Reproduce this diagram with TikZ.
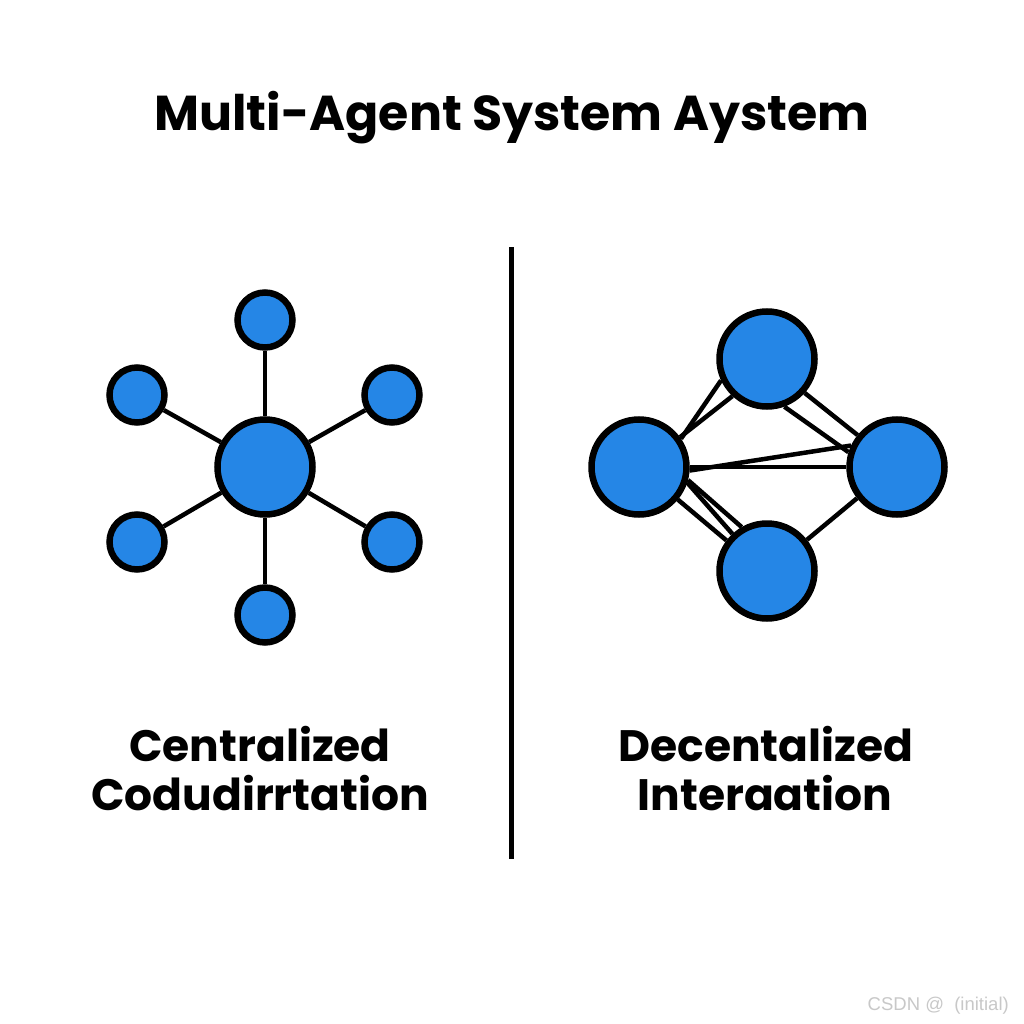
\documentclass[tikz,border=0pt]{standalone}
\usepackage{fontspec}
\setmainfont{Poppins}
\newfontfamily\wmfont{Liberation Sans}
\definecolor{agentblue}{RGB}{37,134,230}
\definecolor{wmgray}{RGB}{200,200,200}
\begin{document}
\begin{tikzpicture}[x=1pt,y=-1pt,
  agent/.style={circle,draw=black,fill=agentblue,line width=6.5pt,inner sep=0pt},
  bigagent/.style={agent,minimum size=95pt},
  smallagent/.style={agent,minimum size=55pt},
  link/.style={draw=black,line width=4.5pt},
  heading/.style={font=\bfseries\fontsize{49}{52}\selectfont,anchor=base,inner sep=0pt},
  caption/.style={font=\bfseries\fontsize{44}{48}\selectfont,anchor=base,inner sep=0pt}]
\useasboundingbox[fill=white] (0,0) rectangle (1024,1024);
% title
\node[heading] (title) at (512,131) {Multi-Agent System Aystem};
% divider
\coordinate (dtop) at (511.5,247);
\coordinate (dbot) at (511.5,859);
\draw[line width=5pt] (dtop) -- (dbot);
% centralized star
\node[bigagent] (hub) at (265,467) {};
\node[smallagent] (s1) at (265,320) {};
\node[smallagent] (s2) at (137,395) {};
\node[smallagent] (s3) at (392,395) {};
\node[smallagent] (s4) at (137,542) {};
\node[smallagent] (s5) at (392,542) {};
\node[smallagent] (s6) at (265,615) {};
\foreach \s in {s1,s2,s3,s4,s5,s6} \draw[link] (hub) -- (\s);
% decentralized cluster
\node[bigagent] (T) at (767,359) {};
\node[bigagent] (L) at (639,467) {};
\node[bigagent] (R) at (897,467) {};
\node[bigagent] (B) at (767,571) {};
\draw[link] (L.34) -- (T.205);
\draw[link] (L.36) -- (T.227);
\draw[link] (T.318) -- (R.141);
\draw[link] (T.290) -- (R.163);
\draw[link] (L.0) -- (R.180);
\draw[link] (L.356) -- (R.155);
\draw[link] (L.320) -- (B.143);
\draw[link] (L.342) -- (B.133);
\draw[link] (L.345) -- (B.120);
\draw[link] (B.38) -- (R.218);
% captions
\node[caption] (c1) at (260,761) {Centralized};
\node[caption] (c2) at (260,810) {Codudirrtation};
\node[caption] (d1) at (766,761) {Decentalized};
\node[caption] (d2) at (765,810) {Interaation};
% watermark
\node[font=\wmfont\fontsize{18.5}{20}\selectfont,text=wmgray,anchor=base east,inner sep=0pt] (wm) at (1009,1010) {CSDN @\ \ (initial)};
\end{tikzpicture}
\end{document}
